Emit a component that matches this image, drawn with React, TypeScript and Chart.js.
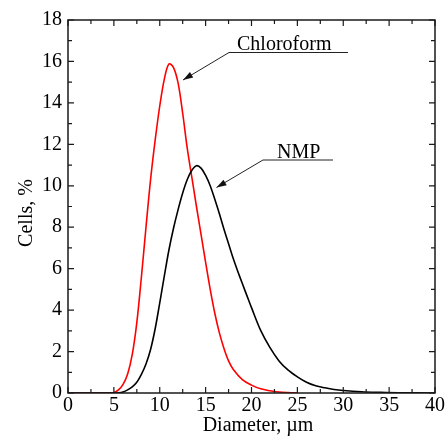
import React, { useEffect, useRef } from "react";
import { Chart, registerables } from "chart.js";

Chart.register(...registerables);

const chloroformX = [0, 4.5, 5, 5.5, 6, 6.5, 7, 7.5, 8, 8.5, 9, 9.5, 10, 10.5, 11, 11.5, 12, 12.5, 13, 13.5, 14, 14.5, 15, 15.5, 16, 16.5, 17, 17.5, 18, 19, 20, 21, 22, 23, 24, 25];
const chloroformY = [0, 0, 0.02, 0.15, 0.42, 0.92, 1.85, 3.4, 5.6, 8.0, 10.3, 12.2, 13.85, 15.15, 15.88, 15.7, 14.95, 13.5, 11.8, 10.4, 9.0, 7.65, 6.3, 5.0, 3.85, 2.9, 2.15, 1.55, 1.15, 0.65, 0.38, 0.2, 0.11, 0.05, 0.02, 0];

const nmpX = [0, 5, 5.5, 6, 6.5, 7, 7.5, 8, 8.5, 9, 9.5, 10, 10.5, 11, 11.5, 12, 12.5, 13, 13.5, 14, 14.5, 15, 15.5, 16, 16.5, 17, 17.5, 18, 18.5, 19, 19.5, 20, 21, 22, 23, 24, 25, 26, 27, 28, 29, 30, 32, 34, 36, 40];
const nmpY = [0, 0, 0.01, 0.05, 0.15, 0.3, 0.52, 0.9, 1.4, 2.1, 3.1, 4.35, 5.65, 6.9, 7.95, 8.85, 9.65, 10.3, 10.75, 10.97, 10.85, 10.5, 10.0, 9.35, 8.65, 7.9, 7.2, 6.5, 5.88, 5.28, 4.7, 4.12, 3.02, 2.2, 1.55, 1.1, 0.78, 0.52, 0.35, 0.25, 0.17, 0.12, 0.06, 0.03, 0.01, 0];

const xTickLabels = [0, 5, 10, 15, 20, 25, 30, 35, 40];
const yTickLabels = [0, 2, 4, 6, 8, 10, 12, 14, 16, 18];

const xTitle = "Diameter, \u00b5m";
const yTitle = "Cells, %";
const seriesNames = ["Chloroform", "NMP"];

const FONT = "'Liberation Serif', 'Times New Roman', serif";

const framePlugin = {
  id: "frameAndAnnotations",
  afterDatasetsDraw(chart: any) {
    const ctx = chart.ctx as CanvasRenderingContext2D;
    const xs = chart.scales.x;
    const ys = chart.scales.y;
    const { left, right, top, bottom } = chart.chartArea;
    ctx.save();
    ctx.strokeStyle = "#1a1a1a";
    ctx.lineWidth = 1.5;
    ctx.strokeRect(left, top, right - left, bottom - top);
    ctx.lineWidth = 1.2;
    ctx.beginPath();
    for (let v = 0; v <= 40.001; v += 2.5) {
      const px = xs.getPixelForValue(v);
      const len = Math.abs(v % 5) < 0.01 ? 6 : 4;
      ctx.moveTo(px, bottom);
      ctx.lineTo(px, bottom - len);
      ctx.moveTo(px, top);
      ctx.lineTo(px, top + len);
    }
    for (let v = 0; v <= 18.001; v += 1) {
      const py = ys.getPixelForValue(v);
      const len = v % 2 === 0 ? 6 : 4;
      ctx.moveTo(left, py);
      ctx.lineTo(left + len, py);
      ctx.moveTo(right, py);
      ctx.lineTo(right - len, py);
    }
    ctx.stroke();

    // axis titles
    ctx.fillStyle = "#000";
    ctx.font = `20px ${FONT}`;
    ctx.textAlign = "center";
    ctx.textBaseline = "alphabetic";
    ctx.fillText(xTitle, 258, 431);
    ctx.save();
    ctx.translate(32, 213);
    ctx.rotate(-Math.PI / 2);
    ctx.fillText(yTitle, 0, 0);
    ctx.restore();

    // annotations
    const drawLabel = (
      text: string,
      tx: number,
      ty: number,
      ulx1: number,
      ulx2: number,
      uly: number,
      tipx: number,
      tipy: number
    ) => {
      ctx.fillStyle = "#000";
      ctx.font = `20px ${FONT}`;
      ctx.textAlign = "left";
      ctx.textBaseline = "alphabetic";
      ctx.fillText(text, tx, ty);
      ctx.strokeStyle = "#222";
      ctx.lineWidth = 1;
      ctx.beginPath();
      ctx.moveTo(ulx1, uly);
      ctx.lineTo(ulx2, uly);
      ctx.moveTo(ulx1, uly);
      ctx.lineTo(tipx, tipy);
      ctx.stroke();
      const ang = Math.atan2(tipy - uly, tipx - ulx1);
      const L = 10;
      const W = 3.2;
      const bx = tipx - L * Math.cos(ang);
      const by = tipy - L * Math.sin(ang);
      ctx.fillStyle = "#111";
      ctx.beginPath();
      ctx.moveTo(tipx, tipy);
      ctx.lineTo(bx + W * Math.sin(ang), by - W * Math.cos(ang));
      ctx.lineTo(bx - W * Math.sin(ang), by + W * Math.cos(ang));
      ctx.closePath();
      ctx.fill();
    };
    drawLabel(seriesNames[0], 237, 50, 229, 348, 52.5, 183, 80);
    drawLabel(seriesNames[1], 277, 158, 263, 333, 160, 216.5, 187.5);
    ctx.restore();
  },
};

export default function App() {
  const ref = useRef<HTMLCanvasElement | null>(null);
  useEffect(() => {
    if (!ref.current) return;
    const chart = new Chart(ref.current, {
      type: "line",
      data: {
        datasets: [
          {
            label: seriesNames[1],
            data: nmpX.map((x, i) => ({ x, y: nmpY[i] })),
            borderColor: "#000000",
            borderWidth: 1.6,
            pointRadius: 0,
            fill: false,
            tension: 0.35,
          },
          {
            label: seriesNames[0],
            data: chloroformX.map((x, i) => ({ x, y: chloroformY[i] })),
            borderColor: "#ff0000",
            borderWidth: 1.6,
            pointRadius: 0,
            fill: false,
            tension: 0.35,
          },
        ],
      },
      options: {
        animation: false,
        responsive: false,
        devicePixelRatio: 1,
        layout: { padding: { left: 0, top: 20, right: 11, bottom: 0 } },
        plugins: {
          legend: { display: false },
          tooltip: { enabled: false },
          title: { display: false },
        },
        scales: {
          x: {
            type: "linear",
            min: 0,
            max: 40,
            afterBuildTicks: (axis: any) => {
              axis.ticks = xTickLabels.map((v) => ({ value: v }));
            },
            afterFit: (axis: any) => {
              axis.height = 46;
            },
            ticks: {
              color: "#000",
              font: { family: FONT, size: 20 },
              padding: 1,
              maxRotation: 0,
              autoSkip: false,
            },
            grid: { display: false, drawTicks: false },
            border: { display: false },
          },
          y: {
            type: "linear",
            min: 0,
            max: 18,
            afterBuildTicks: (axis: any) => {
              axis.ticks = yTickLabels.map((v) => ({ value: v }));
            },
            afterFit: (axis: any) => {
              axis.width = 68;
            },
            ticks: {
              color: "#000",
              font: { family: FONT, size: 20 },
              padding: 6,
              autoSkip: false,
            },
            grid: { display: false, drawTicks: false },
            border: { display: false },
          },
        },
      },
      plugins: [framePlugin],
    } as any);
    return () => chart.destroy();
  }, []);
  return (
    <div style={{ position: "fixed", left: 0, top: 0, width: 446, height: 439, background: "#fff" }}>
      <canvas ref={ref} width={446} height={439} style={{ width: 446, height: 439, display: "block" }} />
    </div>
  );
}
